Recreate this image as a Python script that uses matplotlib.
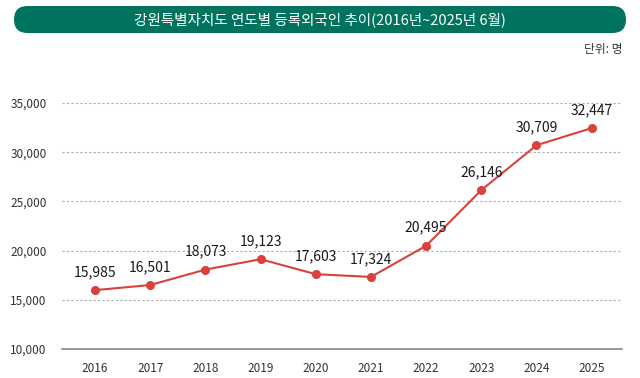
import matplotlib
matplotlib.use("Agg")
import matplotlib.pyplot as plt
from matplotlib.patches import FancyBboxPatch

plt.rcParams['font.family'] = ['Noto Sans CJK KR', 'DejaVu Sans']

years = ['2016', '2017', '2018', '2019', '2020', '2021', '2022', '2023', '2024', '2025']
values = [15985, 16501, 18073, 19123, 17603, 17324, 20495, 26146, 30709, 32447]
yticks = [10000, 15000, 20000, 25000, 30000, 35000]
title = '강원특별자치도 연도별 등록외국인 추이(2016년~2025년 6월)'
unit = '단위: 명'

W, H = 640, 378
fig = plt.figure(figsize=(W/100, H/100), dpi=100)
fig.patch.set_facecolor('white')

# background axes in pixel units for the title bar
bg = fig.add_axes([0, 0, 1, 1])
bg.set_xlim(0, W)
bg.set_ylim(0, H)
bg.axis('off')
bar = FancyBboxPatch((14, H-33), 612, 27,
                     boxstyle="round,pad=0,rounding_size=13.5",
                     facecolor='#00735f', edgecolor='none')
bg.add_patch(bar)
bg.text(320, H-19.5, title, color='white', fontsize=10.5, ha='center', va='center', fontweight='medium')
bg.text(622, H-49, unit, color='#333333', fontsize=8.5, ha='right', va='center')

left, right = 62, 622
top, bottom = 103, 349
ax = fig.add_axes([left/W, 1-bottom/H, (right-left)/W, (bottom-top)/H])
x = list(range(len(years)))
ax.plot(x, values, color='#d8413c', lw=1.5, marker='o', ms=5.5, clip_on=False, zorder=3)
for xi, v in zip(x, values):
    ax.annotate(f'{v:,}', (xi, v), xytext=(0, 8), textcoords='offset points',
                ha='center', va='bottom', fontsize=10, color='#1a1a1a')
ax.set_ylim(10000, 35000)
ax.set_xlim(-0.6, 9.55)
ax.set_yticks(yticks)
ax.set_yticklabels([f'{t:,}' for t in yticks], fontsize=8.5, color='#333333')
ax.set_xticks(x)
ax.set_xticklabels(years, fontsize=8.5, color='#333333')
ax.tick_params(length=0, pad=9)
ax.tick_params(axis='y', pad=11)
for s in ['top', 'right', 'left']:
    ax.spines[s].set_visible(False)
ax.spines['bottom'].set_color('#888888')
ax.spines['bottom'].set_linewidth(1.2)
for t in yticks[1:]:
    ax.axhline(t, color='#aaaaaa', lw=0.8, ls=(0, (2, 2)), zorder=1)
fig.savefig('out.png', dpi=100)
